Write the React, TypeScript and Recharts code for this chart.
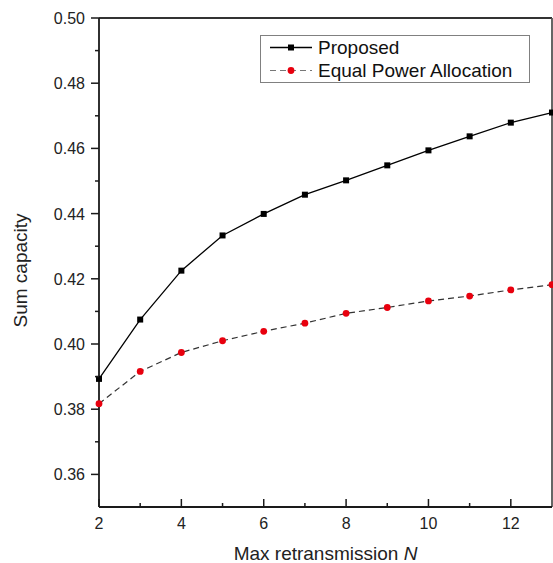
import React from "react";
import { LineChart, Line, XAxis, YAxis, ReferenceLine, Legend, Label } from "recharts";

const nValues = [2, 3, 4, 5, 6, 7, 8, 9, 10, 11, 12, 13];
const proposed = [0.3893, 0.4075, 0.4225, 0.4333, 0.4399, 0.4458, 0.4502, 0.4548, 0.4594, 0.4637, 0.4679, 0.471];
const equalPower = [0.3817, 0.3916, 0.3974, 0.401, 0.4039, 0.4064, 0.4094, 0.4112, 0.4132, 0.4147, 0.4166, 0.4182];
const xTicks = [2, 3, 4, 5, 6, 7, 8, 9, 10, 11, 12];
const yTicks = [0.36, 0.37, 0.38, 0.39, 0.4, 0.41, 0.42, 0.43, 0.44, 0.45, 0.46, 0.47, 0.48, 0.49, 0.5];
const seriesNames = ["Proposed", "Equal Power Allocation"];

const data = nValues.map((n, i) => ({ n, proposed: proposed[i], equal: equalPower[i] }));

const FONT = "'Liberation Sans', Arial, Helvetica, sans-serif";
const AXIS = "#1a1a1a";
const RED = "#e8000e";

const XTick = (props: any) => {
  const { x, y, payload } = props;
  const v = payload.value;
  const major = v % 2 === 0;
  return (
    <g>
      <line x1={x} x2={x} y1={y} y2={y - (major ? 8 : 4)} stroke={AXIS} strokeWidth={1.5} />
      {major && (
        <text x={x} y={y + 22} textAnchor="middle" fontSize={16} fontFamily={FONT} fill="#222">
          {v}
        </text>
      )}
    </g>
  );
};

const YTick = (props: any) => {
  const { x, y, payload } = props;
  const v = payload.value;
  const major = Math.round(v * 100) % 2 === 0;
  return (
    <g>
      <line x1={x} x2={x - (major ? 8 : 4)} y1={y} y2={y} stroke={AXIS} strokeWidth={1.5} />
      {major && (
        <text x={x - 14} y={y + 6} textAnchor="end" fontSize={16} fontFamily={FONT} fill="#222">
          {v.toFixed(2)}
        </text>
      )}
    </g>
  );
};

const XLabel = (props: any) => {
  const vb = props.viewBox || {};
  const cx = vb.x + vb.width / 2;
  return (
    <text x={cx} y={vb.y + 53} textAnchor="middle" fontSize={19} fontFamily={FONT} fill="#222">
      Max retransmission <tspan fontStyle="italic">N</tspan>
    </text>
  );
};

const YLabel = (props: any) => {
  const vb = props.viewBox || {};
  const cy = vb.y + vb.height / 2 + 8;
  return (
    <text
      x={27}
      y={cy}
      transform={`rotate(-90, 27, ${cy})`}
      textAnchor="middle"
      fontSize={19}
      fontFamily={FONT}
      fill="#222"
    >
      Sum capacity
    </text>
  );
};

const SquareDot = (props: any) => {
  const { cx, cy, index } = props;
  if (cx == null || cy == null) return <g key={`s-${index}`} />;
  return <rect key={`s-${index}`} x={cx - 3} y={cy - 3} width={6} height={6} fill="#000" />;
};

const CircleDot = (props: any) => {
  const { cx, cy, index } = props;
  if (cx == null || cy == null) return <g key={`c-${index}`} />;
  return <circle key={`c-${index}`} cx={cx} cy={cy} r={3.4} fill={RED} />;
};

const LegendBox = () => (
  <div
    style={{
      boxSizing: "border-box",
      width: 270,
      height: 48,
      border: "1px solid #808080",
      background: "#fff",
      fontFamily: FONT,
      fontSize: 19,
      color: "#111",
      lineHeight: "23px",
    }}
  >
    <div style={{ display: "flex", alignItems: "center", height: 23 }}>
      <svg width={42} height={23} style={{ marginLeft: 9, marginRight: 6 }}>
        <line x1={0} x2={42} y1={11.5} y2={11.5} stroke="#000" strokeWidth={1.3} />
        <rect x={18} y={8.5} width={6} height={6} fill="#000" />
      </svg>
      <span>{seriesNames[0]}</span>
    </div>
    <div style={{ display: "flex", alignItems: "center", height: 23 }}>
      <svg width={42} height={23} style={{ marginLeft: 9, marginRight: 6 }}>
        <line x1={0} x2={42} y1={11.5} y2={11.5} stroke="#777" strokeWidth={1.2} strokeDasharray="6 4" />
        <circle cx={21} cy={11.5} r={3.4} fill={RED} />
      </svg>
      <span>{seriesNames[1]}</span>
    </div>
  </div>
);

export default function App() {
  return (
    <div style={{ position: "absolute", left: 0, top: 0, background: "#fff" }}>
      <LineChart width={553} height={563} data={data} margin={{ top: 18, right: 1, bottom: 0, left: 0 }}>
        <XAxis
          dataKey="n"
          type="number"
          domain={[2, 13]}
          ticks={xTicks}
          interval={0}
          tickSize={0}
          tickMargin={0}
          tick={<XTick />}
          tickLine={false}
          height={56}
          axisLine={{ stroke: AXIS, strokeWidth: 1.8 }}
        >
          <Label content={<XLabel />} />
        </XAxis>
        <YAxis
          type="number"
          domain={[0.35, 0.5]}
          ticks={yTicks}
          interval={0}
          tickSize={0}
          tickMargin={0}
          tick={<YTick />}
          tickLine={false}
          width={99}
          axisLine={{ stroke: AXIS, strokeWidth: 1.8 }}
        >
          <Label content={<YLabel />} />
        </YAxis>
        <ReferenceLine y={0.5} stroke="#333" strokeWidth={1.8} />
        <ReferenceLine x={13} stroke="#555" strokeWidth={1.8} />
        <Legend
          layout="horizontal"
          verticalAlign="middle"
          align="center"
          content={<LegendBox />}
          wrapperStyle={{ left: 260, top: 35, width: 270, height: 48 }}
        />
        <Line
          type="linear"
          dataKey="equal"
          name={seriesNames[1]}
          stroke="#333"
          strokeWidth={1.2}
          strokeDasharray="6 4"
          dot={<CircleDot />}
          activeDot={false}
          isAnimationActive={false}
        />
        <Line
          type="linear"
          dataKey="proposed"
          name={seriesNames[0]}
          stroke="#000"
          strokeWidth={1.3}
          dot={<SquareDot />}
          activeDot={false}
          isAnimationActive={false}
        />
      </LineChart>
    </div>
  );
}
